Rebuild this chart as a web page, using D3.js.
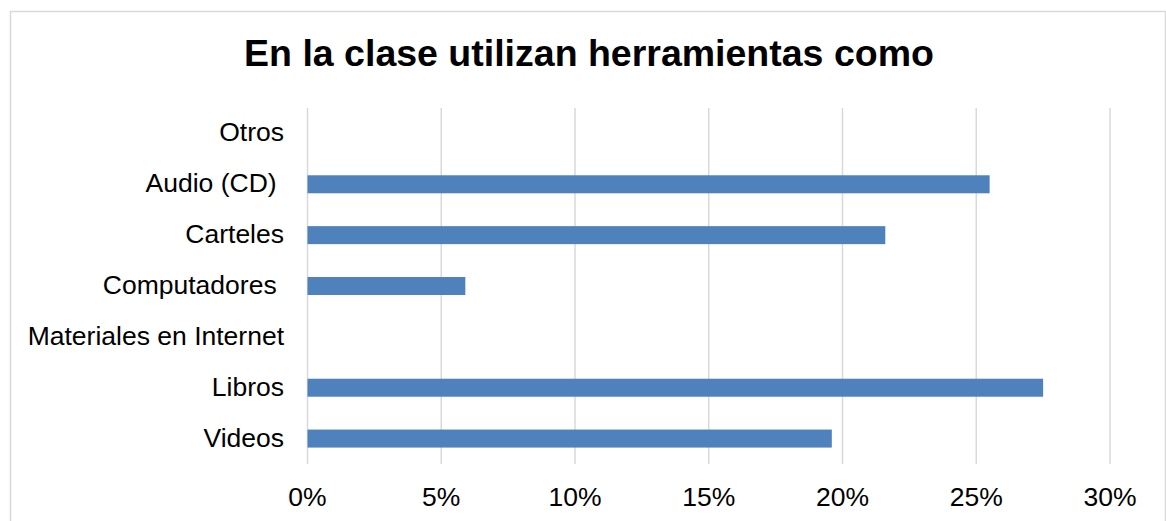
<!DOCTYPE html>
<html>
<head>
<meta charset="utf-8">
<script src="https://cdn.jsdelivr.net/npm/d3@7"></script>
<style>
  body { margin: 0; background: #fff; }
  text { font-family: "Liberation Sans", Arial, sans-serif; fill: #000; white-space: pre; }
</style>
</head>
<body>
<script>
const width = 1166;
const height = 521;

const categories = ['Otros', 'Audio (CD) ', 'Carteles', 'Computadores ', 'Materiales en Internet', 'Libros', 'Videos'];
const values = [0, 0.255, 0.216, 0.059, 0, 0.275, 0.196];
const ticks = [0, 0.05, 0.10, 0.15, 0.20, 0.25, 0.30];

const data = categories.map((name, i) => ({ name, value: values[i] }));

const margin = { top: 108, left: 307.5, right: 56, bottom: 57 };

const svg = d3.select('body').append('svg')
    .attr('width', width)
    .attr('height', height);

// cadre du graphique
svg.append('rect')
    .attr('x', 10.5).attr('y', 11.5)
    .attr('width', 1155).attr('height', 530)
    .attr('fill', '#fff')
    .attr('stroke', '#d9d9d9')
    .attr('stroke-width', 1.5);

svg.append('text')
    .attr('x', 589)
    .attr('y', 66)
    .attr('text-anchor', 'middle')
    .attr('font-size', 37.5)
    .attr('font-weight', 'bold')
    .text('En la clase utilizan herramientas como');

const x = d3.scaleLinear()
    .domain([0, 0.30])
    .range([margin.left, width - margin.right]);

const y = d3.scaleBand()
    .domain(categories)
    .range([margin.top, height - margin.bottom])
    .paddingInner(0.646)
    .paddingOuter(0.323);

// lignes de grille
svg.append('g')
    .selectAll('line')
    .data(ticks)
    .enter()
    .append('line')
    .attr('x1', d => x(d)).attr('x2', d => x(d))
    .attr('y1', margin.top).attr('y2', height - margin.bottom)
    .attr('stroke', '#d9d9d9')
    .attr('stroke-width', 1.5);

svg.append('g')
    .selectAll('rect')
    .data(data)
    .enter()
    .append('rect')
    .attr('x', x(0))
    .attr('y', d => y(d.name))
    .attr('width', d => x(d.value) - x(0))
    .attr('height', y.bandwidth())
    .attr('fill', '#4f81bd');

// noms des catégories
svg.append('g')
    .selectAll('text')
    .data(categories)
    .enter()
    .append('text')
    .attr('x', 284)
    .attr('y', d => y(d) + y.bandwidth() / 2)
    .attr('dy', '0.3em')
    .attr('text-anchor', 'end')
    .attr('font-size', 26.5)
    .text(d => d);

svg.append('g')
    .selectAll('text')
    .data(ticks)
    .enter()
    .append('text')
    .attr('x', d => x(d))
    .attr('y', 506)
    .attr('text-anchor', 'middle')
    .attr('font-size', 26.5)
    .text(d => d3.format('.0%')(d));
</script>
</body>
</html>
